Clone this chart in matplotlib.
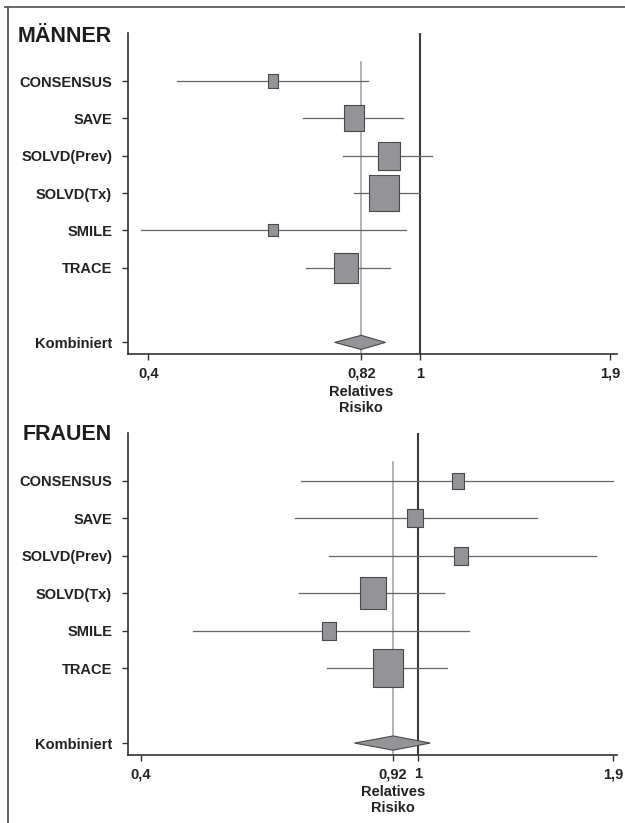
import matplotlib.pyplot as plt
import numpy as np
from matplotlib.path import Path
from matplotlib.lines import Line2D
from matplotlib.ticker import NullLocator

plt.rcParams['font.family'] = ['Liberation Sans', 'DejaVu Sans']
plt.rcParams['font.weight'] = 'bold'

# Studien (gleiche Reihenfolge in beiden Gruppen)
studien = ["CONSENSUS", "SAVE", "SOLVD(Prev)", "SOLVD(Tx)", "SMILE", "TRACE"]

# Männer: relatives Risiko, 95%-KI und Gewicht der Studie
maenner_rr = [0.61, 0.80, 0.90, 0.885, 0.61, 0.78]
maenner_lo = [0.44, 0.675, 0.77, 0.80, 0.39, 0.68]
maenner_hi = [0.84, 0.945, 1.04, 1.00, 0.955, 0.905]
maenner_gewicht = [4.9, 17.2, 20.0, 35.0, 3.3, 23.4]
maenner_gesamt = [0.82, 0.75, 0.89]   # RR, untere, obere Grenze

# Frauen
frauen_rr = [1.14, 0.99, 1.15, 0.86, 0.745, 0.905]
frauen_lo = [0.68, 0.665, 0.745, 0.675, 0.475, 0.74]
frauen_hi = [1.90, 1.48, 1.80, 1.09, 1.18, 1.10]
frauen_gewicht = [6.1, 9.4, 7.8, 26.1, 7.8, 37.0]
frauen_gesamt = [0.92, 0.81, 1.04]

maenner_ticks = [0.4, 0.82, 1, 1.9]
frauen_ticks = [0.4, 0.92, 1, 1.9]

# Rechteck-Marker, etwas höher als breit
kasten = Path([(-0.4, -0.5), (0.4, -0.5), (0.4, 0.5), (-0.4, 0.5), (-0.4, -0.5)],
              [Path.MOVETO, Path.LINETO, Path.LINETO, Path.LINETO, Path.CLOSEPOLY])


def forest(ax, rr, lo, hi, gewicht, gesamt, ticks, xlim):
    ypos = np.arange(len(rr))
    y_komb = len(rr) + 1

    # Referenzlinien
    ax.axvline(1, color='#3c3c3c', lw=1.5, zorder=1)
    ax.plot([gesamt[0], gesamt[0]], [-0.5, 8], color='#9c9c9c', lw=1.1, zorder=1)

    # Konfidenzintervalle und Kästchen
    for i in range(len(rr)):
        ax.plot([lo[i], hi[i]], [ypos[i], ypos[i]], color='#666666', lw=0.9, zorder=2)
        ax.plot(rr[i], ypos[i], marker=kasten, markersize=4.46 * np.sqrt(gewicht[i]),
                markerfacecolor='#939398', markeredgecolor='#4a4a4a',
                markeredgewidth=0.8, linestyle='none', zorder=3)

    # Raute für den kombinierten Schätzer
    h = 0.19
    ax.fill([gesamt[1], gesamt[0], gesamt[2], gesamt[0]],
            [y_komb, y_komb - h, y_komb, y_komb + h],
            facecolor='#939398', edgecolor='#4a4a4a', lw=0.8, zorder=3)

    ax.set_xscale('log')
    ax.set_xlim(xlim)
    ax.set_xticks(ticks)
    ax.set_xticklabels([str(t).replace('.', ',') for t in ticks])
    ax.xaxis.set_minor_locator(NullLocator())
    ax.set_ylim(y_komb + 0.31, -1.28)
    ax.set_yticks(list(ypos) + [y_komb])
    ax.set_yticklabels(studien + ["Kombiniert"])

    for s in ['top', 'right']:
        ax.spines[s].set_visible(False)
    for s in ['left', 'bottom']:
        ax.spines[s].set_color('#333333')
        ax.spines[s].set_linewidth(1.2)
    ax.tick_params(axis='both', length=4.6, width=1.0, color='#333333',
                   labelsize=10.5, labelcolor='#222222')
    ax.tick_params(axis='y', pad=6.8)
    ax.tick_params(axis='x', pad=4.5)

    ax.annotate("Relatives\nRisiko", xy=(gesamt[0], 0), xycoords=ax.get_xaxis_transform(),
                xytext=(0, -22), textcoords='offset points', ha='center', va='top',
                fontsize=10.5, fontweight='bold', color='#222222')


fig = plt.figure(figsize=(6.25, 8.23), dpi=100)

ax1 = fig.add_axes([0.2048, 0.5699, 0.7824, 0.3896])
forest(ax1, maenner_rr, maenner_lo, maenner_hi, maenner_gewicht, maenner_gesamt,
       maenner_ticks, (0.3735, 1.943))

ax2 = fig.add_axes([0.2048, 0.0830, 0.7824, 0.3912])
forest(ax2, frauen_rr, frauen_lo, frauen_hi, frauen_gewicht, frauen_gesamt,
       frauen_ticks, (0.3836, 1.926))

fig.text(112 / 625, 1 - 42 / 823, "MÄNNER", ha='right', va='baseline',
         fontsize=15.5, fontweight='bold', color='#1e1e1e')
fig.text(112 / 625, 1 - 440 / 823, "FRAUEN", ha='right', va='baseline',
         fontsize=15.5, fontweight='bold', color='#1e1e1e')

# Rahmen oben und links
fig.add_artist(Line2D([5 / 625, 1], [1 - 6.5 / 823, 1 - 6.5 / 823],
                      transform=fig.transFigure, color='#5a5a5a', lw=1.3))
fig.add_artist(Line2D([7.5 / 625, 7.5 / 625], [0, 1 - 6.5 / 823],
                      transform=fig.transFigure, color='#5a5a5a', lw=1.3))

plt.savefig('out.png', dpi=100)
